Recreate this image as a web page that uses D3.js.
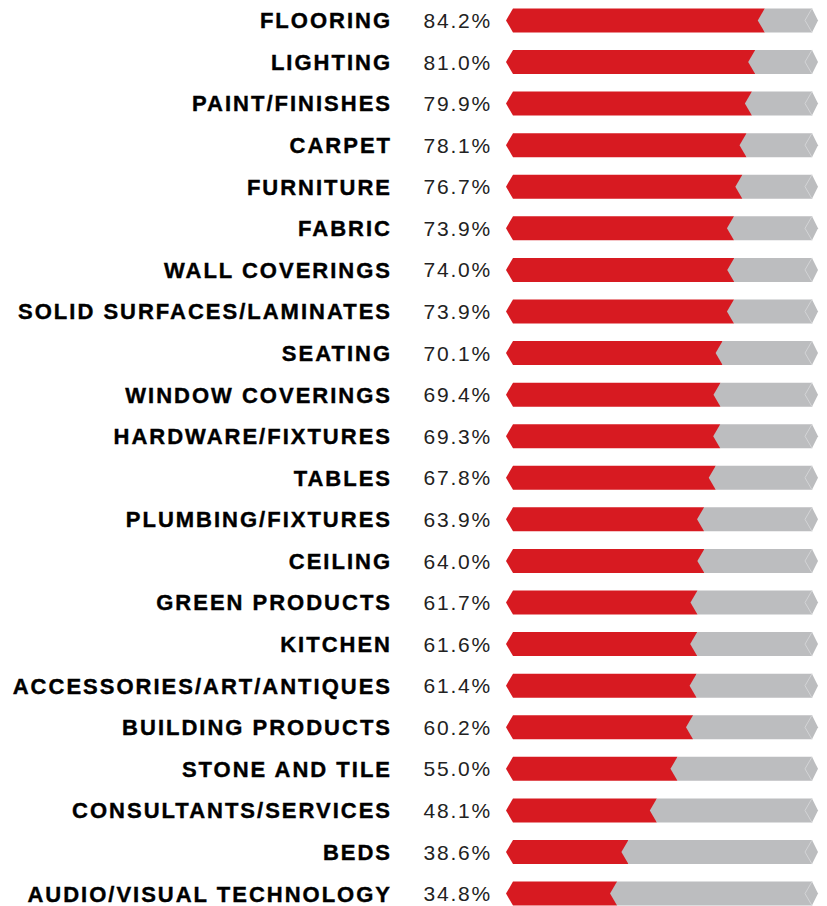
<!DOCTYPE html>
<html>
<head>
<meta charset="utf-8">
<script src="https://cdn.jsdelivr.net/npm/d3@7"></script>
<style>
  html, body { margin: 0; padding: 0; background: #fff; }
  svg { display: block; }
</style>
</head>
<body>
<svg id="chart" width="827" height="906"></svg>
<script>
const categories = [
  "FLOORING", "LIGHTING", "PAINT/FINISHES", "CARPET", "FURNITURE", "FABRIC",
  "WALL COVERINGS", "SOLID SURFACES/LAMINATES", "SEATING", "WINDOW COVERINGS",
  "HARDWARE/FIXTURES", "TABLES", "PLUMBING/FIXTURES", "CEILING", "GREEN PRODUCTS",
  "KITCHEN", "ACCESSORIES/ART/ANTIQUES", "BUILDING PRODUCTS", "STONE AND TILE",
  "CONSULTANTS/SERVICES", "BEDS", "AUDIO/VISUAL TECHNOLOGY"
];
const values = [84.2, 81.0, 79.9, 78.1, 76.7, 73.9, 74.0, 73.9, 70.1, 69.4, 69.3,
  67.8, 63.9, 64.0, 61.7, 61.6, 61.4, 60.2, 55.0, 48.1, 38.6, 34.8];
const domainMax = [100];

const svg = d3.select("#chart");
const x = d3.scaleLinear().domain([0, domainMax[0]]).range([513, 812]);
const y = d3.scaleBand().domain(categories).range([0, 914]).paddingInner(0.42).paddingOuter(0.2);
const bh = 24;
const tip = 7;
const RED = "#d71a21", GRAY = "#bcbdbf";

const rows = svg.selectAll("g.row").data(categories).join("g")
  .attr("class", "row")
  .attr("transform", d => `translate(0, ${y(d) + y.bandwidth() / 2})`);

// red bar (pointed left end)
rows.append("path")
  .attr("fill", RED)
  .attr("d", (d, i) => {
    const xv = x(values[i]), x0 = x(0);
    return `M${x0 - tip},0 L${x0},${-bh/2} L${xv},${-bh/2} L${xv},${bh/2} L${x0},${bh/2} Z`;
  });

// gray remainder (pointed both ends)
rows.append("path")
  .attr("fill", GRAY)
  .attr("d", (d, i) => {
    const xv = x(values[i]), x1 = x(domainMax[0]);
    return `M${xv - tip},0 L${xv},${-bh/2} L${x1},${-bh/2} L${x1 + tip - 1},0 L${x1},${bh/2} L${xv},${bh/2} Z`;
  });

// faint inner chevron near right end
rows.append("path")
  .attr("fill", "none")
  .attr("stroke", "#d3d4d6")
  .attr("stroke-width", 1)
  .attr("d", () => {
    const x1 = x(domainMax[0]);
    return `M${x1},${-bh/2} L${x1 - tip},0 L${x1},${bh/2}`;
  });

// category labels
rows.append("text")
  .attr("x", 392)
  .attr("y", 0)
  .attr("dy", "0.36em")
  .attr("text-anchor", "end")
  .attr("font-family", "'Liberation Sans', Arial, Helvetica, sans-serif")
  .attr("font-weight", "bold")
  .attr("font-size", 22)
  .attr("letter-spacing", "2px")
  .attr("stroke", "#000")
  .attr("stroke-width", 0.4)
  .attr("fill", "#000")
  .text(d => d);

// value labels
rows.append("text")
  .attr("x", 492)
  .attr("y", 0)
  .attr("dy", "0.36em")
  .attr("text-anchor", "end")
  .attr("font-family", "'Liberation Sans', Arial, Helvetica, sans-serif")
  .attr("font-size", 21)
  .attr("letter-spacing", "1.8px")
  .attr("fill", "#222")
  .text((d, i) => values[i].toFixed(1) + "%");
</script>
</body>
</html>
